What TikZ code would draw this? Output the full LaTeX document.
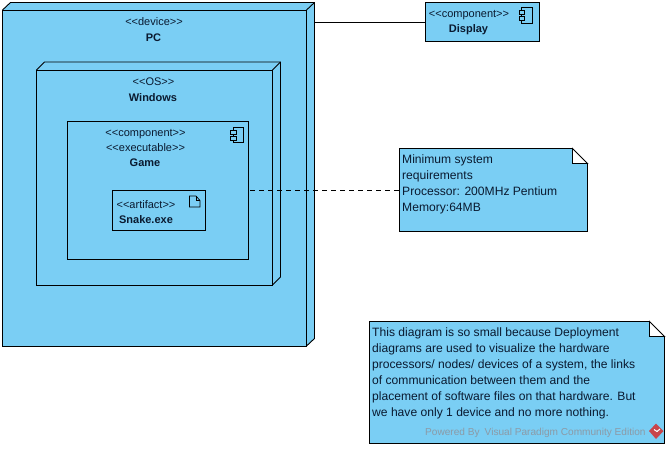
\documentclass[tikz,border=0pt]{standalone}
\usepackage{fontspec}
\setmainfont{Liberation Sans}
\usepackage{tikz}
\usetikzlibrary{positioning,calc}
\definecolor{nodefill}{HTML}{7ACEF4}
\definecolor{notetext}{HTML}{0A1A30}
\definecolor{markgray}{HTML}{8C9AA6}
\definecolor{markred}{HTML}{C8444A}

\begin{document}
\begin{tikzpicture}[x=1pt, y=-1pt,
  box/.style={draw, fill=nodefill, line width=0.9pt, anchor=north west, inner sep=0pt, outer sep=0pt},
  lbl/.style={font=\fontsize{11}{12}\selectfont, text=notetext, inner sep=0pt, anchor=base},
  title/.style={font=\fontsize{11}{12}\selectfont\bfseries, text=notetext, inner sep=0pt, anchor=base},
  notetxt/.style={font=\fontsize{12.1}{16}\selectfont, text=notetext, align=left, inner sep=0pt, anchor=north west},
  icon/.style={draw, line width=0.7pt, fill=nodefill},
  link/.style={line width=0.7pt}
]
  \useasboundingbox (0,0) rectangle (669,448);

  % cubes
  \fill[nodefill] (2.5,10) -- (10,2.5) -- (314.5,2.5) -- (314.5,338.5) -- (306.5,346) -- (2.5,346) -- cycle;
  \node[box, minimum width=304pt, minimum height=336pt] (pc) at (2.5,10) {};
  \draw[line width=0.9pt] (pc.north west) -- ++(8,-7.5) -- ++(304,0) -- ++(0,336) -- (pc.south east);
  \draw[line width=0.9pt] (pc.north east) -- ++(8,-7.5);

  \node[box, minimum width=236pt, minimum height=215pt] (os) at (36.5,70) {};
  \draw[line width=0.9pt] (os.north west) -- ++(8,-8) -- ++(236,0) -- ++(0,215) -- (os.south east);
  \draw[line width=0.9pt] (os.north east) -- ++(8,-8);

  \node[box, minimum width=180.5pt, minimum height=138pt] (game) at (67.5,121) {};
  \node[box, minimum width=93pt, minimum height=40.5pt] (snake) at (112.5,190) {};

  % right side
  \node[box, minimum width=114pt, minimum height=38.5pt] (display) at (425.5,2.5) {};

  \node[box, minimum width=188pt, minimum height=82.5pt] (req) at (399.5,148.5) {};
  \fill[white] (572.5,147.5) rectangle (588.5,163.5);
  \draw[line width=0.9pt, fill=white] (572.5,148.5) -- (587.5,163.5) -- (572.5,163.5) -- cycle;
  \draw[line width=0.9pt] (587.5,163.5) -- (587.5,231);

  \node[box, minimum width=295pt, minimum height=122pt] (info) at (369.5,321.5) {};
  \fill[white] (649.5,320.5) rectangle (665.5,336.5);
  \draw[line width=0.9pt, fill=white] (649.5,321.5) -- (664.5,336.5) -- (649.5,336.5) -- cycle;
  \draw[line width=0.9pt] (664.5,336.5) -- (664.5,443.5);

  % labels
  \node[lbl] (pcs) at (154,25.5) {<{}<device>{}>};
  \node[title] (pcn) at (153.5,41) {PC};
  \node[lbl] (oss) at (153.5,85.5) {<{}<OS>{}>};
  \node[title] (osn) at (153,101) {Windows};
  \node[lbl] (gs1) at (145.5,136) {<{}<component>{}>};
  \node[lbl] (gs2) at (145.5,151) {<{}<executable>{}>};
  \node[title] (gn) at (145,166) {Game};
  \node[lbl] (ss) at (146,208) {<{}<artifact>{}>};
  \node[title] (sn) at (146,223) {Snake.exe};
  \node[lbl] (ds) at (469,17) {<{}<component>{}>};
  \node[title] (dn) at (468.5,32) {Display};

  \node[notetxt] (reqt) at (402,154.5) {Minimum system\\requirements\\Processor: 200MHz Pentium\\Memory:64MB};
  \node[notetxt] (infot) at (372,327.5) {This diagram is so small because Deployment\\diagrams are used to visualize the hardware\\processors/ nodes/ devices of a system, the links\\of communication between them and the\\placement of software files on that hardware. But\\we have only 1 device and no more nothing.};
  \node[font=\fontsize{10.1}{11}\selectfont, text=markgray, inner sep=0pt, anchor=base west] (mark) at (425,435.5) {Powered By\,\,\,Visual Paradigm Community Edition};

  % icons
  \draw[icon] (233,127) rectangle (243.5,142);
  \draw[icon] (230.5,130) rectangle (236,134);
  \draw[icon] (230.5,136) rectangle (236,140);
  \draw[icon] (521.5,7) rectangle (532,23);
  \draw[icon] (519,10) rectangle (524.5,14.5);
  \draw[icon] (519,16) rectangle (524.5,20.5);
  \draw[line width=0.7pt] (189.5,196) -- (196,196) -- (200,200.5) -- (200,207) -- (189.5,207) -- cycle;
  \draw[line width=0.6pt] (196,196) -- (196,200.5) -- (200,200.5);

  % logo
  \fill[markred] (656,423.5) -- (663.5,431) -- (656,439) -- (649,431) -- cycle;
  \draw[white, line width=1pt] (654,429.5) -- (657,431.5) -- (660,429);

  % connectors
  \coordinate (pcr) at (314.5,22);
  \coordinate (gamer) at (250,190.5);
  \draw[link] (pcr) -- (pcr -| display.west);
  \draw[link, dashed, dash pattern=on 5pt off 4pt] (gamer) -- (gamer -| req.west);
\end{tikzpicture}
\end{document}
